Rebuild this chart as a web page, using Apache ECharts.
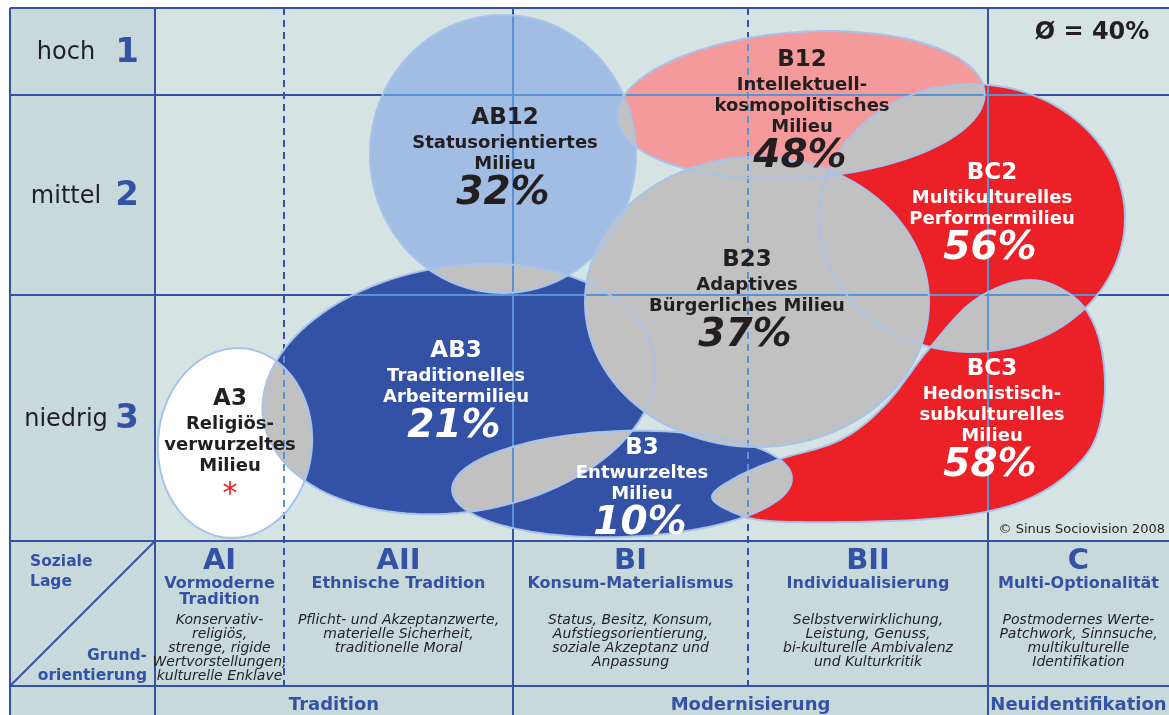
<!DOCTYPE html>
<html><head><meta charset="utf-8">
<script src="https://cdn.jsdelivr.net/npm/echarts/dist/echarts.min.js"></script>
<style>html,body{margin:0;padding:0;background:#fff;}#c{width:1169px;height:715px;}</style>
</head><body><div id="c"></div>
<script>
// ================= DATA =================
// Grundorientierung (x) column boundaries and Soziale Lage (y) row boundaries, in scale units
const xBounds = [0, 129, 358, 593, 833, 1014];
const xDashed = [false, true, false, true, false, false];
const yBounds = [0, 87, 287, 533];
const rowLabels = ['hoch', 'mittel', 'niedrig'];
const rowNumbers = ['1', '2', '3'];
const colCodes = ['AI', 'AII', 'BI', 'BII', 'C'];
const colTitles = [['Vormoderne', 'Tradition'], ['Ethnische Tradition'], ['Konsum-Materialismus'], ['Individualisierung'], ['Multi-Optionalität']];
const colDescriptions = [
  ['Konservativ-', 'religiös,', 'strenge, rigide', 'Wertvorstellungen,', 'kulturelle Enklave'],
  ['Pflicht- und Akzeptanzwerte,', 'materielle Sicherheit,', 'traditionelle Moral'],
  ['Status, Besitz, Konsum,', 'Aufstiegsorientierung,', 'soziale Akzeptanz und', 'Anpassung'],
  ['Selbstverwirklichung,', 'Leistung, Genuss,', 'bi-kulturelle Ambivalenz', 'und Kulturkritik'],
  ['Postmodernes Werte-', 'Patchwork, Sinnsuche,', 'multikulturelle', 'Identifikation']
];
const phaseLabels = ['Tradition', 'Modernisierung', 'Neuidentifikation'];
const phaseColumns = [[0, 2], [2, 4], [4, 5]];

const milieuCodes = ['AB12', 'B12', 'BC2', 'B23', 'AB3', 'A3', 'B3', 'BC3'];
const milieuNames = [
  ['Statusorientiertes', 'Milieu'],
  ['Intellektuell-', 'kosmopolitisches', 'Milieu'],
  ['Multikulturelles', 'Performermilieu'],
  ['Adaptives', 'Bürgerliches Milieu'],
  ['Traditionelles', 'Arbeitermilieu'],
  ['Religiös-', 'verwurzeltes', 'Milieu'],
  ['Entwurzeltes', 'Milieu'],
  ['Hedonistisch-', 'subkulturelles', 'Milieu']
];
const milieuShares = [32, 48, 56, 37, 21, null, 10, 58];   // null = * (too few cases)
const averageShare = 40;
// milieu extents as ellipses [cx, cy, rx, ry, rotationDeg] in scale units (null = free outline)
const milieuEllipses = [
  [348, 146, 133, 139, 0],
  [646, 97, 184, 73, -4],
  [817, 210, 153, 134, 0],
  [602, 294, 172, 145, 0],
  [304, 381, 198, 123, -9],
  [80, 435, 77, 95, 5],
  [467, 476, 170, 53, -2],
  null
];
const bc3Outline = [[557,489],[580,470],[622,452],[685,432],[730,397],[773,342],[820,292],[875,272],[920,290],[943,327],[950,382],[940,432],[915,464],[880,488],[835,503],[775,511],[695,514],[615,513],[580,505]];
const milieuLabelAnchors = [[350,110],[647,52],[837,165],[592,252],[301,343],[75,391],[487,440],[837,361]];

// ================= STYLE =================
const FONT = '"DejaVu Sans", Verdana, sans-serif';
const C = { blue: '#3452a5', light: '#5a93d4', outline: '#a6c3eb', gray: '#c1c1c1', plotBg: '#d6e3e3', panelBg: '#c7d9da', ink: '#231f20', red: '#ec2027' };
const fillColor = { AB12: '#a1bde3', B12: '#f59a9b', BC2: '#ec2027', B23: '#c1c1c1', AB3: '#3452a5', A3: '#ffffff', B3: '#3452a5', BC3: '#ec2027' };
const darkText = { AB12: true, B12: true, B23: true, A3: true };
const PANEL_X = -145;          // left label panel edge (scale units)
const TABLE_Y = [533, 678, 712];

// ================= GEOMETRY HELPERS =================
function catmullClosed(pts, n) {
  const out = [], L = pts.length;
  for (let i = 0; i < L; i++) {
    const p0 = pts[(i - 1 + L) % L], p1 = pts[i], p2 = pts[(i + 1) % L], p3 = pts[(i + 2) % L];
    for (let s = 0; s < n; s++) {
      const t = s / n, t2 = t * t, t3 = t2 * t;
      const f = (a, b, c, d) => 0.5 * (2 * b + (-a + c) * t + (2 * a - 5 * b + 4 * c - d) * t2 + (-a + 3 * b - 3 * c + d) * t3);
      out.push([f(p0[0], p1[0], p2[0], p3[0]), f(p0[1], p1[1], p2[1], p3[1])]);
    }
  }
  return out;
}
function milieuOutline(i) {
  const e = milieuEllipses[i];
  if (!e) return catmullClosed(bc3Outline, 10);
  const [cx, cy, rx, ry, rot] = e, th = rot * Math.PI / 180, pts = [];
  for (let k = 0; k < 120; k++) {
    const t = k / 120 * 2 * Math.PI;
    pts.push([cx + rx * Math.cos(t) * Math.cos(th) - ry * Math.sin(t) * Math.sin(th),
              cy + rx * Math.cos(t) * Math.sin(th) + ry * Math.sin(t) * Math.cos(th)]);
  }
  return pts;
}
const px = (api, pts) => pts.map(p => api.coord(p));

// ================= RENDERERS =================
function renderFrame(params, api) {
  const ch = [];
  const rect = (x0, y0, x1, y1, fill) => { const a = api.coord([x0, y0]), b = api.coord([x1, y1]);
    ch.push({ type: 'rect', shape: { x: a[0], y: a[1], width: b[0] - a[0], height: b[1] - a[1] }, style: { fill } }); };
  const line = (x0, y0, x1, y1, dashed) => { const a = api.coord([x0, y0]), b = api.coord([x1, y1]);
    ch.push({ type: 'line', shape: { x1: a[0], y1: a[1], x2: b[0], y2: b[1] }, style: { stroke: C.blue, lineWidth: 2, lineDash: dashed ? [7, 5] : null } }); };
  const xMax = xBounds[xBounds.length - 1];
  rect(PANEL_X, yBounds[0], xBounds[0], yBounds[3], C.panelBg);
  rect(xBounds[0], yBounds[0], xMax + 5, yBounds[3], C.plotBg);
  rect(PANEL_X, TABLE_Y[0], xMax + 5, TABLE_Y[2] + 5, C.panelBg);
  yBounds.forEach(y => line(PANEL_X, y, xMax + 5, y, false));
  line(PANEL_X, TABLE_Y[1], xMax + 5, TABLE_Y[1], false);
  line(PANEL_X, yBounds[0], PANEL_X, TABLE_Y[2] + 5, false);
  for (let k = 0; k < xBounds.length - 1; k++) {
    if (xDashed[k]) line(xBounds[k], yBounds[0], xBounds[k], TABLE_Y[1], true);
    else line(xBounds[k], yBounds[0], xBounds[k], TABLE_Y[2] + 5, false);
  }
  line(PANEL_X, TABLE_Y[1], xBounds[0], TABLE_Y[0], false);
  return { type: 'group', children: ch };
}
function renderFill(params, api) {
  const i = params.dataIndex;
  return { type: 'polygon', shape: { points: px(api, milieuOutline(i)) }, style: { fill: fillColor[milieuCodes[i]] } };
}
const pairs = [];
for (let i = 0; i < milieuCodes.length; i++) for (let j = i + 1; j < milieuCodes.length; j++) pairs.push([i, j]);
function renderOverlap(params, api) {
  const [i, j] = pairs[params.dataIndex];
  return { type: 'polygon', shape: { points: px(api, milieuOutline(i)) }, style: { fill: C.gray },
           clipPath: { type: 'polygon', shape: { points: px(api, milieuOutline(j)) } } };
}
function renderGridOverlay(params, api) {
  const i = params.dataIndex, ch = [];
  const line = (x0, y0, x1, y1, dashed) => { const a = api.coord([x0, y0]), b = api.coord([x1, y1]);
    ch.push({ type: 'line', shape: { x1: a[0], y1: a[1], x2: b[0], y2: b[1] }, style: { stroke: C.light, lineWidth: 2, lineDash: dashed ? [7, 5] : null } }); };
  const xMax = xBounds[xBounds.length - 1];
  for (let r = 1; r < yBounds.length - 1; r++) line(0, yBounds[r], xMax, yBounds[r], false);
  for (let k = 1; k < xBounds.length - 1; k++) line(xBounds[k], yBounds[0], xBounds[k], yBounds[3], xDashed[k]);
  return { type: 'group', children: ch, clipPath: { type: 'polygon', shape: { points: px(api, milieuOutline(i)) } } };
}
function renderOutline(params, api) {
  const i = params.dataIndex;
  return { type: 'polygon', shape: { points: px(api, milieuOutline(i)) }, style: { fill: 'none', stroke: C.outline, lineWidth: 2 } };
}
function txtEl(api, x, y, text, font, fill, align) {
  const p = api.coord([x, y]);
  return { type: 'text', x: p[0], y: p[1], style: { text, font, fill, align: align || 'center', verticalAlign: 'middle' } };
}
function renderLabel(params, api) {
  const i = params.dataIndex, code = milieuCodes[i];
  const [ax, ay] = milieuLabelAnchors[i];
  const ink = darkText[code] ? C.ink : '#ffffff';
  const ch = [txtEl(api, ax, ay, code, 'bold 23px ' + FONT, ink)];
  let y = ay + 25;
  milieuNames[i].forEach(n => { ch.push(txtEl(api, ax, y, n, 'bold 18px ' + FONT, ink)); y += 21; });
  y += 9;
  if (milieuShares[i] != null) ch.push(txtEl(api, ax - 2, y, milieuShares[i] + '%', 'italic bold 39px ' + FONT, ink));
  else ch.push(txtEl(api, ax, y - 1, '*', '30px ' + FONT, C.red));
  return { type: 'group', children: ch };
}
function renderAxisText(params, api) {
  const ch = [];
  // row labels (Soziale Lage)
  rowLabels.forEach((lab, r) => {
    const yc = (yBounds[r] + yBounds[r + 1]) / 2 + 1.5;
    ch.push(txtEl(api, -89, yc, lab, '24px ' + FONT, C.ink));
    ch.push(txtEl(api, -28, yc, rowNumbers[r], 'bold 34px ' + FONT, C.blue));
  });
  // corner cell
  ch.push(txtEl(api, -125, 554, 'Soziale', 'bold 15.5px ' + FONT, C.blue, 'left'));
  ch.push(txtEl(api, -125, 574, 'Lage', 'bold 15.5px ' + FONT, C.blue, 'left'));
  ch.push(txtEl(api, -8, 648, 'Grund-', 'bold 15.5px ' + FONT, C.blue, 'right'));
  ch.push(txtEl(api, -8, 668, 'orientierung', 'bold 15.5px ' + FONT, C.blue, 'right'));
  // columns (Grundorientierung)
  colCodes.forEach((code, k) => {
    const xc = (xBounds[k] + xBounds[k + 1]) / 2;
    ch.push(txtEl(api, xc, 553, code, 'bold 29px ' + FONT, C.blue));
    colTitles[k].forEach((t, m) => ch.push(txtEl(api, xc, 576 + m * 16, t, 'bold 16px ' + FONT, C.blue)));
    colDescriptions[k].forEach((d, m) => ch.push(txtEl(api, xc, 612 + m * 14, d, 'italic 14px ' + FONT, C.ink)));
  });
  phaseLabels.forEach((lab, k) => {
    const xc = (xBounds[phaseColumns[k][0]] + xBounds[phaseColumns[k][1]]) / 2;
    ch.push(txtEl(api, xc, 697, lab, 'bold 18px ' + FONT, C.blue));
  });
  ch.push(txtEl(api, 937, 25, 'Ø = ' + averageShare + '%', 'bold 24px ' + FONT, C.ink));
  ch.push(txtEl(api, 1010, 522, '© Sinus Sociovision 2008', '13px ' + FONT, C.ink, 'right'));
  return { type: 'group', children: ch };
}

// ================= CHART =================
const chart = echarts.init(document.getElementById('c'), null, { renderer: 'canvas', width: 1169, height: 715 });
const one = [[0, 0]];
const perMilieu = milieuCodes.map((c, i) => [i, 0]);
chart.setOption({
  animation: false,
  backgroundColor: '#ffffff',
  grid: { left: 155, top: 8, width: 1014, height: 533, show: false },
  xAxis: { type: 'value', min: 0, max: 1014, show: false },
  yAxis: { type: 'value', min: 0, max: 533, inverse: true, show: false },
  series: [
    { type: 'custom', name: 'frame', z: 1, clip: false, silent: true, data: one, renderItem: renderFrame },
    { type: 'custom', name: 'milieus', z: 2, clip: false, silent: true, data: perMilieu, renderItem: renderFill },
    { type: 'custom', name: 'overlaps', z: 3, clip: false, silent: true, data: pairs.map((p, k) => [k, 0]), renderItem: renderOverlap },
    { type: 'custom', name: 'grid', z: 4, clip: false, silent: true, data: perMilieu, renderItem: renderGridOverlay },
    { type: 'custom', name: 'outlines', z: 5, clip: false, silent: true, data: perMilieu, renderItem: renderOutline },
    { type: 'custom', name: 'labels', z: 6, clip: false, silent: true, data: perMilieu, renderItem: renderLabel },
    { type: 'custom', name: 'axes', z: 6, clip: false, silent: true, data: one, renderItem: renderAxisText }
  ]
});
</script>
</body></html>
